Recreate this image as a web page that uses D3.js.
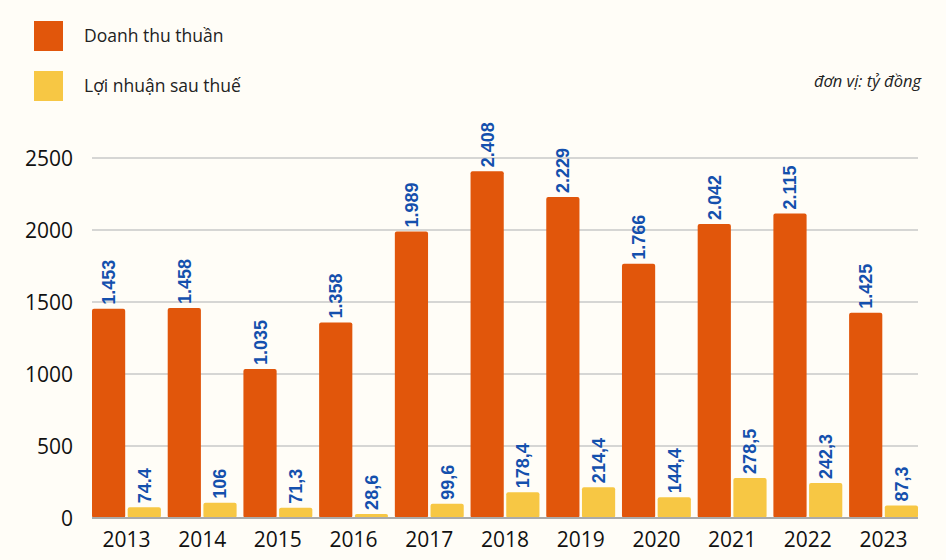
<!DOCTYPE html>
<html>
<head>
<meta charset="utf-8">
<script src="https://cdn.jsdelivr.net/npm/d3@7/dist/d3.min.js"></script>
<style>
  html, body { margin: 0; padding: 0; background: #fffdf7; }
  svg { display: block; }
</style>
</head>
<body>
<div id="chart"></div>
<script>
const years = ["2013","2014","2015","2016","2017","2018","2019","2020","2021","2022","2023"];
const revenue = [1453, 1458, 1035, 1358, 1989, 2408, 2229, 1766, 2042, 2115, 1425];
const revenueLabels = ["1.453","1.458","1.035","1.358","1.989","2.408","2.229","1.766","2.042","2.115","1.425"];
const profit = [74.4, 106, 71.3, 28.6, 99.6, 178.4, 214.4, 144.4, 278.5, 242.3, 87.3];
const profitLabels = ["74.4","106","71,3","28,6","99,6","178,4","214,4","144,4","278,5","242,3","87,3"];
const seriesNames = ["Doanh thu thuần", "Lợi nhuận sau thuế"];
const yTicks = [0, 500, 1000, 1500, 2000, 2500];
const unitNote = "đơn vị: tỷ đồng";

const W = 946, H = 560;
const colors = ["#e1560b", "#f7c744"];
const labelColor = "#1450ad";

const svg = d3.select("#chart").append("svg").attr("width", W).attr("height", H);
svg.append("rect").attr("width", W).attr("height", H).attr("fill", "#fffdf7");

const mLeft = 92, mRight = 918, mTop = 158, mBottom = 518;

const x = d3.scaleBand().domain(years).range([mLeft, mRight]).paddingInner(0.09).paddingOuter(0);
const xi = d3.scaleBand().domain([0, 1]).range([0, x.bandwidth()]).paddingInner(0.07);
const y = d3.scaleLinear().domain([0, 2500]).range([mBottom, mTop]);

// grid
svg.append("g").selectAll("line").data(yTicks.filter(d => d > 0)).join("line")
  .attr("x1", mLeft).attr("x2", mRight)
  .attr("y1", d => y(d)).attr("y2", d => y(d))
  .attr("stroke", "#c8c8c8").attr("stroke-width", 1.5);

// y tick labels
svg.append("g").selectAll("text").data(yTicks).join("text")
  .attr("x", 73).attr("y", d => y(d))
  .attr("dy", "0.36em")
  .attr("text-anchor", "end")
  .attr("font-family", "'Open Sans', sans-serif")
  .attr("font-weight", 500)
  .attr("font-size", 21)
  .attr("fill", "#111")
  .text(d => d);

const data = years.map((yr, i) => ({
  year: yr,
  vals: [
    { s: 0, v: revenue[i], label: revenueLabels[i] },
    { s: 1, v: profit[i], label: profitLabels[i] }
  ]
}));

const groups = svg.append("g").selectAll("g").data(data).join("g")
  .attr("transform", d => `translate(${x(d.year)},0)`);

groups.selectAll("rect").data(d => d.vals).join("rect")
  .attr("x", d => xi(d.s))
  .attr("width", xi.bandwidth())
  .attr("y", d => y(d.v))
  .attr("height", d => y(0) - y(d.v))
  .attr("rx", 2)
  .attr("fill", d => colors[d.s]);

// baseline
svg.append("line").attr("x1", mLeft).attr("x2", mRight)
  .attr("y1", y(0)).attr("y2", y(0))
  .attr("stroke", "#aaaaaa").attr("stroke-width", 2);

// value labels
groups.selectAll("text.val").data(d => d.vals).join("text")
  .attr("class", "val")
  .attr("transform", d => `translate(${xi(d.s) + xi.bandwidth() / 2},${y(d.v) - 4}) rotate(-90)`)
  .attr("dy", "0.36em")
  .attr("text-anchor", "start")
  .attr("font-family", "'Liberation Sans', Arial, sans-serif")
  .attr("font-weight", "bold")
  .attr("font-size", 18)
  .attr("fill", labelColor)
  .text(d => d.label);

// x labels
svg.append("g").selectAll("text").data(years).join("text")
  .attr("x", d => x(d) + x.bandwidth() / 2)
  .attr("y", 547)
  .attr("text-anchor", "middle")
  .attr("font-family", "'Open Sans', sans-serif")
  .attr("font-weight", 500)
  .attr("font-size", 21)
  .attr("fill", "#111")
  .text(d => d);

// legend
const legend = svg.append("g");
seriesNames.forEach((name, i) => {
  legend.append("rect").attr("x", 34).attr("y", 21 + i * 50).attr("width", 29).attr("height", 30).attr("fill", colors[i]);
  legend.append("text").attr("x", 84).attr("y", 36 + i * 50).attr("dy", "0.36em")
    .attr("font-family", "'Open Sans', sans-serif").attr("font-size", 17.5).attr("fill", "#222")
    .text(name);
});

svg.append("text").attr("x", 921).attr("y", 87)
  .attr("text-anchor", "end")
  .attr("font-family", "'Open Sans', sans-serif")
  .attr("font-style", "italic")
  .attr("font-size", 16.5)
  .attr("fill", "#222")
  .text(unitNote);
</script>
</body>
</html>
